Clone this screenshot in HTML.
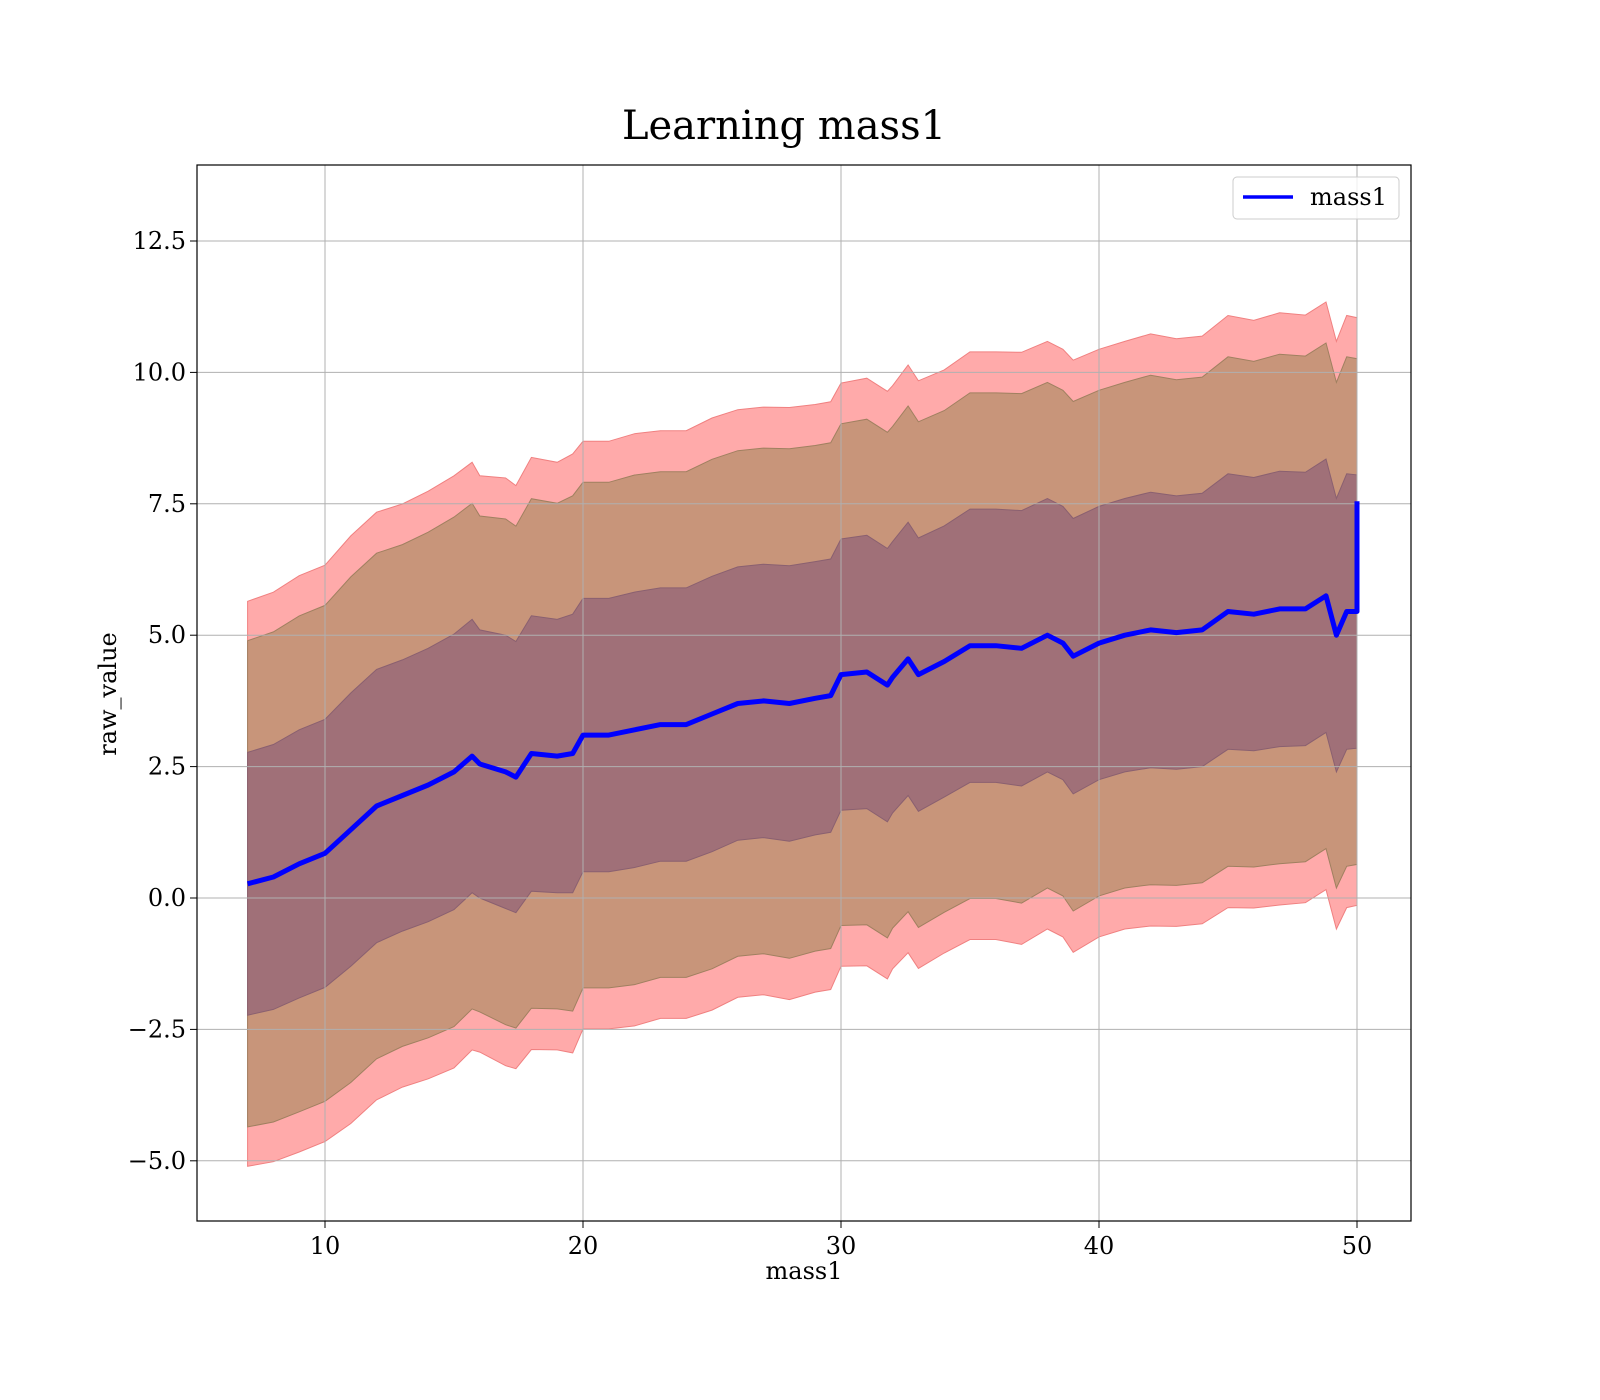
<!DOCTYPE html>
<html><head><meta charset="utf-8"><style>
html,body{margin:0;padding:0;background:#fff;}
svg{display:block;font-family:"DejaVu Serif","Liberation Serif",serif;}
</style></head><body>
<svg id="chart" width="1600" height="1400" viewBox="0 0 1600 1400">
<text x="784" y="139" font-size="40" text-anchor="middle">Learning mass1</text>
<g id="plot"></g>
<rect x="197" y="165" width="1214" height="1056" fill="none" stroke="#000" stroke-width="1.2"/>
<text x="804" y="1279" font-size="24" text-anchor="middle">mass1</text>
<text transform="translate(116,694) rotate(-90)" font-size="24" text-anchor="middle">raw_value</text>
<g>
<rect x="1233" y="177" width="166" height="42" rx="4" fill="#fff" fill-opacity="0.8" stroke="#ccc"/>
<line x1="1243" y1="197" x2="1293" y2="197" stroke="#0000ff" stroke-width="3.5"/>
<text x="1310" y="205" font-size="24">mass1</text>
</g>
</svg>
<script>
const xs = [7,8,9,10,11,12,13,14,15,15.7,16,17,17.4,18,19,19.6,20,21,22,23,24,25,26,27,28,29,29.6,30,31,31.8,32,32.6,33,34,35,36,37,38,38.6,39,40,41,42,43,44,45,46,47,48,48.8,49.2,49.6,50];
const meanVals = [0.27,0.4,0.65,0.85,1.3,1.75,1.95,2.15,2.4,2.7,2.55,2.4,2.3,2.75,2.7,2.75,3.1,3.1,3.2,3.3,3.3,3.5,3.7,3.75,3.7,3.8,3.85,4.25,4.3,4.05,4.2,4.55,4.25,4.5,4.8,4.8,4.75,5.0,4.85,4.6,4.85,5.0,5.1,5.05,5.1,5.45,5.4,5.5,5.5,5.75,5.0,5.45,5.45];
const sigmaVals = [2.5,2.52,2.55,2.55,2.6,2.6,2.58,2.6,2.62,2.6,2.55,2.6,2.58,2.62,2.6,2.65,2.6,2.6,2.62,2.6,2.6,2.62,2.6,2.6,2.62,2.6,2.6,2.58,2.6,2.6,2.58,2.6,2.6,2.58,2.6,2.6,2.62,2.6,2.6,2.62,2.6,2.6,2.62,2.6,2.6,2.62,2.6,2.62,2.6,2.6,2.6,2.62,2.6];
const bandK = [2.15,1.85,1.0];
const bandColors = ["#ffaaaa","#c8957a","#a07078"];
const bandEdges = ["#f08080","#a08060","#8a6070"];
const xTicks = [10,20,30,40,50];
const yTicks = [-5,-2.5,0,2.5,5,7.5,10,12.5];
const yTickLabels = ["\u22125.0","\u22122.5","0.0","2.5","5.0","7.5","10.0","12.5"];

const X = v => 325 + (v - 10) * 25.8;
const Y = v => 898 - v * 52.56;
const NS = "http://www.w3.org/2000/svg";
const plot = document.getElementById("plot");
function mk(tag, attrs){const e=document.createElementNS(NS,tag);for(const k in attrs)e.setAttribute(k,attrs[k]);return e;}

bandK.forEach((k,bi)=>{
  let up = xs.map((x,i)=>X(x).toFixed(1)+","+Y(meanVals[i]+k*sigmaVals[i]).toFixed(1));
  let lo = xs.map((x,i)=>X(x).toFixed(1)+","+Y(meanVals[i]-k*sigmaVals[i]).toFixed(1)).reverse();
  const p = mk("polygon",{points:up.concat(lo).join(" "),fill:bandColors[bi],stroke:bandEdges[bi],"stroke-width":1});
  
  
  plot.appendChild(p);
});

xTicks.forEach(t=>{
  const g = mk("line",{x1:X(t),x2:X(t),y1:165,y2:1221,stroke:"#b0b0b0","stroke-width":1});
  
  
  plot.appendChild(g);
  const tk = mk("line",{x1:X(t),x2:X(t),y1:1221,y2:1228,stroke:"#000"});
  
  
  plot.appendChild(tk);
  const tx = mk("text",{x:X(t),y:1254,"font-size":24,"text-anchor":"middle"});
  tx.textContent = t;
  
  
  plot.appendChild(tx);
});
yTicks.forEach((t,i)=>{
  const g = mk("line",{x1:197,x2:1411,y1:Y(t),y2:Y(t),stroke:"#b0b0b0","stroke-width":1});
  
  
  plot.appendChild(g);
  const tk = mk("line",{x1:190,x2:197,y1:Y(t),y2:Y(t),stroke:"#000"});
  
  
  plot.appendChild(tk);
  const tx = mk("text",{x:186,y:Y(t)+8,"font-size":24,"text-anchor":"end"});
  tx.textContent = yTickLabels[i];
  
  
  plot.appendChild(tx);
});

const pts = xs.map((x,i)=>X(x).toFixed(1)+","+Y(meanVals[i]).toFixed(1));
pts.push(X(50).toFixed(1)+","+Y(7.55).toFixed(1));
const line = mk("polyline",{points:pts.join(" "),fill:"none",stroke:"#0000ff","stroke-width":5,"stroke-linejoin":"round"});


plot.appendChild(line);
</script>
</body></html>
